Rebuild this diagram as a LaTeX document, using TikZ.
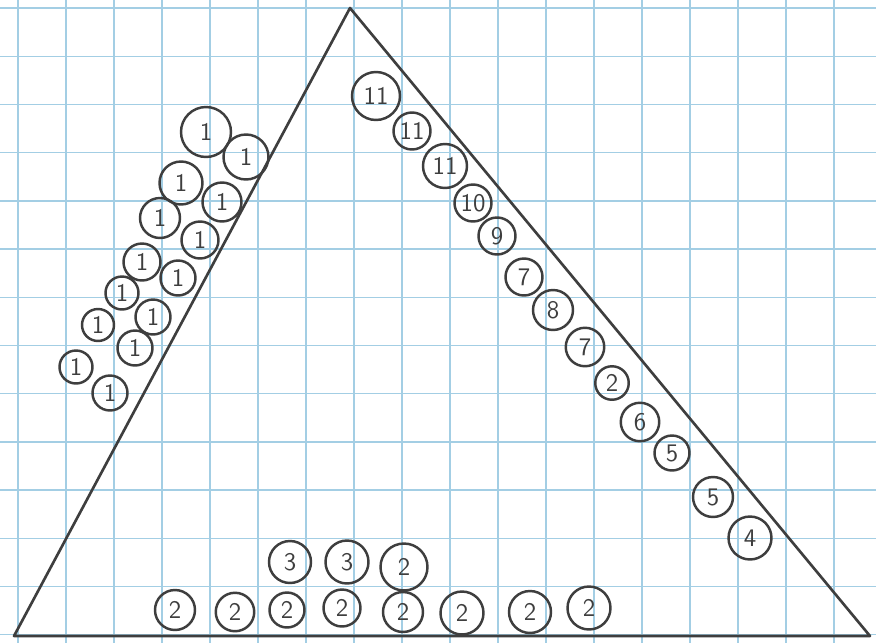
\documentclass[tikz,border=0pt]{standalone}
\usepackage{tikz}
\usetikzlibrary{positioning}

\definecolor{gridblue}{RGB}{163,206,228}
\definecolor{pencil}{RGB}{62,62,62}

\begin{document}
\begin{tikzpicture}[x=0.02cm,y=-0.02cm,
    gridline/.style={gridblue,line width=0.8pt},
    edgeline/.style={pencil,line width=1.5pt,line join=round},
    ball/.style={circle,draw=pencil,line width=1.4pt,inner sep=0pt,
                 minimum size=0.74cm,font=\sffamily\Large,text=pencil}]
    \useasboundingbox[fill=white] (0,0) rectangle (876,643);

    % graph paper
    \foreach \gx in {0,...,17} \draw[gridline] (18+48*\gx,0) -- (18+48*\gx,643);
    \foreach \gy in {0,...,13} \draw[gridline] (0,8+48.2*\gy) -- (876,8+48.2*\gy);

    % the triangle
    \coordinate (apex) at (350,8);
    \coordinate (bl) at (14,636);
    \coordinate (br) at (870,636);
    \draw[edgeline] (apex) -- (br) -- (bl) -- cycle;

    % left side
    \node[ball,minimum size=1cm] (l1) at (206,132) {1};
    \node[ball,minimum size=0.9cm] (l2) at (246,157) {1};
    \node[ball,minimum size=0.86cm] (l3) at (181,183) {1};
    \node[ball,minimum size=0.78cm] (l4) at (222,202) {1};
    \node[ball,minimum size=0.8cm] (l5) at (160,218) {1};
    \node[ball] (l6) at (200,240) {1};
    \node[ball] (l7) at (142,262) {1};
    \node[ball,minimum size=0.7cm] (l8) at (178,278) {1};
    \node[ball,minimum size=0.66cm] (l9) at (122,293) {1};
    \node[ball,minimum size=0.7cm] (l10) at (153,317) {1};
    \node[ball,minimum size=0.64cm] (l11) at (98,325) {1};
    \node[ball,minimum size=0.7cm] (l12) at (135,348) {1};
    \node[ball,minimum size=0.66cm] (l13) at (76,367) {1};
    \node[ball,minimum size=0.7cm] (l14) at (110,393) {1};

    % right side
    \node[ball,minimum size=0.96cm] (r1) at (376,96) {11};
    \node[ball] (r2) at (412,131) {11};
    \node[ball,minimum size=0.88cm] (r3) at (445,166) {11};
    \node[ball] (r4) at (473,203) {10};
    \node[ball] (r5) at (497,236) {9};
    \node[ball] (r6) at (524,277) {7};
    \node[ball,minimum size=0.8cm] (r7) at (553,310) {8};
    \node[ball,minimum size=0.77cm] (r8) at (585,347) {7};
    \node[ball,minimum size=0.67cm] (r9) at (612,383) {2};
    \node[ball,minimum size=0.77cm] (r10) at (640,422) {6};
    \node[ball,minimum size=0.7cm] (r11) at (672,453) {5};
    \node[ball,minimum size=0.8cm] (r12) at (713,497) {5};
    \node[ball,minimum size=0.86cm] (r13) at (750,538) {4};

    % bottom side
    \node[ball,minimum size=0.84cm] (t1) at (290,562) {3};
    \node[ball,minimum size=0.86cm] (t2) at (347,562) {3};
    \node[ball,minimum size=0.94cm] (t3) at (404,567) {2};
    \node[ball,minimum size=0.8cm] (b1) at (175,610) {2};
    \node[ball,minimum size=0.77cm] (b2) at (235,612) {2};
    \node[ball,minimum size=0.7cm] (b3) at (287,610) {2};
    \node[ball] (b4) at (342,608) {2};
    \node[ball,minimum size=0.8cm] (b5) at (403,612) {2};
    \node[ball,minimum size=0.86cm] (b6) at (462,613) {2};
    \node[ball,minimum size=0.84cm] (b7) at (530,612) {2};
    \node[ball,minimum size=0.86cm] (b8) at (589,608) {2};
\end{tikzpicture}
\end{document}
